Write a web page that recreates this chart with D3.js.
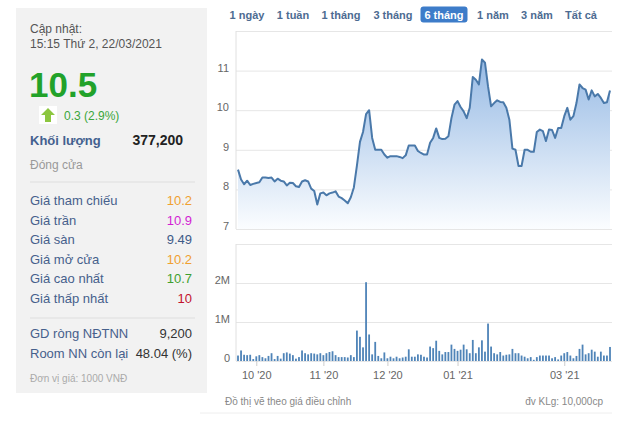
<!DOCTYPE html>
<html>
<head>
<meta charset="utf-8">
<script src="https://cdn.jsdelivr.net/npm/d3@7"></script>
<style>
  body { margin: 0; background: #fff; }
  svg { display: block; font-family: Arial, "Liberation Sans", sans-serif; }
</style>
</head>
<body>
<div class="chart-wrapper"></div>
<script>
// trading calendar (Vietnam, weekdays minus holidays)
const startDate = '2020-09-23';
const endDate = '2021-03-22';
const holidays = ['2021-01-01', '2021-02-10', '2021-02-11', '2021-02-12', '2021-02-15', '2021-02-16'];

// closing price, 1000 VND
const prices = [
  8.5, 8.25, 8.13, 8.22, 8.11, 8.14, 8.16, 8.18, 8.3, 8.3,
  8.29, 8.3, 8.2, 8.27, 8.22, 8.2, 8.1, 8.17, 8.16, 8.08,
  8.06, 8.2, 8.23, 8.2, 8.02, 7.96, 7.62, 7.9, 7.92, 7.85,
  7.9, 7.92, 7.95, 7.82, 7.78, 7.72, 7.65, 7.8, 8.05, 8.6,
  9.2, 9.45, 9.9, 10.0, 9.3, 9.0, 9.0, 9.0, 8.88, 8.8,
  8.84, 8.84, 8.84, 8.82, 8.79, 8.86, 9.11, 9.11, 9.11, 8.97,
  8.92, 8.88, 8.88, 9.18, 9.3, 9.54, 9.3, 9.27, 9.28, 9.34,
  9.8, 10.14, 10.23, 10.08, 9.97, 9.8, 10.06, 10.84, 10.77, 10.65,
  11.28, 11.2, 10.6, 10.1, 10.18, 10.25, 10.21, 10.2, 10.06, 9.76,
  9.03, 9.0, 8.59, 8.59, 9.0, 9.0, 8.95, 8.95, 9.45, 9.51,
  9.47, 9.22, 9.51, 9.5, 9.3, 9.55, 9.55, 9.85, 10.06, 9.76,
  9.85, 10.18, 10.65, 10.56, 10.52, 10.27, 10.5, 10.35, 10.41, 10.31,
  10.18, 10.2, 10.5
];

// volume, shares
const volumes = [
  140000, 270000, 160000, 150000, 160000, 50000, 120000, 150000, 100000, 70000,
  130000, 200000, 50000, 130000, 60000, 200000, 220000, 190000, 150000, 60000,
  100000, 270000, 200000, 170000, 200000, 190000, 170000, 200000, 150000, 200000,
  230000, 250000, 150000, 100000, 100000, 100000, 90000, 150000, 100000, 780000,
  620000, 350000, 2020000, 680000, 170000, 490000, 130000, 70000, 220000, 70000,
  110000, 70000, 110000, 70000, 90000, 110000, 300000, 110000, 110000, 170000,
  160000, 110000, 90000, 370000, 330000, 520000, 260000, 170000, 230000, 230000,
  420000, 310000, 260000, 290000, 420000, 300000, 200000, 540000, 200000, 350000,
  530000, 240000, 960000, 370000, 200000, 170000, 230000, 140000, 160000, 170000,
  310000, 200000, 200000, 140000, 110000, 70000, 100000, 30000, 100000, 140000,
  140000, 140000, 140000, 70000, 100000, 40000, 140000, 200000, 230000, 140000,
  70000, 130000, 310000, 420000, 170000, 200000, 290000, 240000, 110000, 240000,
  140000, 140000, 360000
];

const tickDates = ['2020-10-01', '2020-11-02', '2020-12-01', '2021-01-04', '2021-03-01'];
const tickLabels = ["10 '20", "11 '20", "12 '20", "01 '21", "03 '21"];
const priceTicks = [7, 8, 9, 10, 11, 12];
const volumeTicks = [0, 1000000, 2000000, 3000000];
const rangeButtons = ['1 ngày', '1 tuần', '1 tháng', '3 tháng', '6 tháng', '1 năm', '3 năm', 'Tất cả'];
const activeButton = '6 tháng';

// quote panel
const updatedLabel = 'Cập nhật:';
const updatedTime = '15:15 Thứ 2, 22/03/2021';
const lastPrice = '10.5';
const change = '0.3 (2.9%)';
const volumeLabel = 'Khối lượng';
const volumeValue = '377,200';
const statusLabel = 'Đóng cửa';
const priceRows = [
  {label: 'Giá tham chiếu', value: '10.2', color: '#f0a030'},
  {label: 'Giá trần', value: '10.9', color: '#d21fd2'},
  {label: 'Giá sàn', value: '9.49', color: '#3f5b88'},
  {label: 'Giá mở cửa', value: '10.2', color: '#f0a030'},
  {label: 'Giá cao nhất', value: '10.7', color: '#3f9f2f'},
  {label: 'Giá thấp nhất', value: '10', color: '#c2132d'}
];
const foreignRows = [
  {label: 'GD ròng NĐTNN', value: '9,200'},
  {label: 'Room NN còn lại', value: '48.04 (%)'}
];
const unitNote = 'Đơn vị giá: 1000 VNĐ';
const footLeft = 'Đồ thị vẽ theo giá điều chỉnh';
const footRight = 'đv KLg: 10,000cp';

const parse = d3.timeParse('%Y-%m-%d');
const fmt = d3.timeFormat('%Y-%m-%d');
const dates = d3.timeDay.range(parse(startDate), d3.timeDay.offset(parse(endDate), 1))
  .filter(d => d.getDay() % 6 !== 0 && !holidays.includes(fmt(d)))
  .map(fmt)
  .slice(0, prices.length);

const data = dates.map((d, i) => ({date: d, price: prices[i], volume: volumes[i]}));

const width = 630, height = 423;
const svg = d3.select('.chart-wrapper').append('svg')
  .attr('width', width)
  .attr('height', height);

// ---- left quote panel
const panel = svg.append('g');
panel.append('rect')
  .attr('x', 16).attr('y', 8).attr('width', 191).attr('height', 385)
  .attr('fill', '#f2f2f2');

panel.append('text').attr('x', 30).attr('y', 33)
  .attr('font-size', 12).attr('fill', '#555').text(updatedLabel);
panel.append('text').attr('x', 30).attr('y', 48)
  .attr('font-size', 12).attr('fill', '#555').text(updatedTime);
panel.append('text').attr('x', 29).attr('y', 97)
  .attr('font-size', 35).attr('font-weight', 'bold').attr('fill', '#22a22a').text(lastPrice);

// up arrow
panel.append('rect').attr('x', 39).attr('y', 106).attr('width', 18).attr('height', 18).attr('fill', '#fff');
panel.append('path')
  .attr('d', 'M48,108 L55,115 L51,115 L51,122 L45,122 L45,115 L41,115 Z')
  .attr('fill', '#8cc63f');
panel.append('text').attr('x', 64).attr('y', 120)
  .attr('font-size', 12).attr('fill', '#3aa63a').text(change);

panel.append('text').attr('x', 30).attr('y', 145)
  .attr('font-size', 13).attr('font-weight', 'bold').attr('fill', '#43608f').text(volumeLabel);
panel.append('text').attr('x', 183).attr('y', 145).attr('text-anchor', 'end')
  .attr('font-size', 14).attr('font-weight', 'bold').attr('fill', '#222').text(volumeValue);
panel.append('text').attr('x', 30).attr('y', 169)
  .attr('font-size', 12).attr('fill', '#999').text(statusLabel);

panel.append('line').attr('x1', 30).attr('x2', 195).attr('y1', 182).attr('y2', 182)
  .attr('stroke', '#dedede');

panel.selectAll('.prow')
  .data(priceRows)
  .enter().append('g')
  .attr('class', 'prow')
  .attr('transform', (d, i) => `translate(0, ${205 + i * 19.5})`)
  .each(function(d) {
    const g = d3.select(this);
    g.append('text').attr('x', 30).attr('font-size', 13).attr('fill', '#46608c').text(d.label);
    g.append('text').attr('x', 192).attr('text-anchor', 'end')
      .attr('font-size', 13).attr('fill', d.color).text(d.value);
  });

panel.append('line').attr('x1', 30).attr('x2', 195).attr('y1', 318).attr('y2', 318)
  .attr('stroke', '#dedede');

panel.selectAll('.frow')
  .data(foreignRows)
  .enter().append('g')
  .attr('class', 'frow')
  .attr('transform', (d, i) => `translate(0, ${338 + i * 19.5})`)
  .each(function(d) {
    const g = d3.select(this);
    g.append('text').attr('x', 30).attr('font-size', 13).attr('fill', '#46608c').text(d.label);
    g.append('text').attr('x', 192).attr('text-anchor', 'end')
      .attr('font-size', 13).attr('fill', '#333').text(d.value);
  });

panel.append('text').attr('x', 30).attr('y', 382)
  .attr('font-size', 10).attr('fill', '#aaa').text(unitNote);

// ---- range buttons
const buttonX = [247, 293, 341, 393, 444, 493, 537, 581];
const buttons = svg.selectAll('.btn')
  .data(rangeButtons)
  .enter().append('g')
  .attr('class', 'btn')
  .attr('transform', (d, i) => `translate(${buttonX[i]}, 15)`);
buttons.filter(d => d === activeButton).append('rect')
  .attr('x', -23.5).attr('y', -8.5).attr('width', 47).attr('height', 16).attr('rx', 3)
  .attr('fill', '#3d7cc9');
buttons.append('text')
  .attr('text-anchor', 'middle').attr('dy', '0.35em')
  .attr('font-size', 11).attr('font-weight', 'bold')
  .attr('fill', d => d === activeButton ? '#fff' : '#4d6b92')
  .text(d => d);

// ---- scales
const plotLeft = 236, plotRight = 612;
const x = d3.scalePoint().domain(dates).range([238, 610]);
const yPrice = d3.scaleLinear().domain([7, 12]).range([229, 31]);
const yVol = d3.scaleLinear().domain([0, 3000000]).range([361, 244]);

// price grid + labels
const priceAxis = svg.append('g')
  .attr('transform', `translate(${plotLeft},0)`)
  .call(d3.axisLeft(yPrice).tickValues(priceTicks)
    .tickSize(-(plotRight - plotLeft)).tickPadding(7)
    .tickFormat(d => d === 12 ? '' : d));
priceAxis.select('.domain').remove();
priceAxis.selectAll('line').attr('stroke', '#e6e6e6');
priceAxis.selectAll('text').attr('fill', '#666').attr('font-size', 11)
  .attr('font-family', 'Arial, "Liberation Sans", sans-serif').attr('dy', '0.05em');

// volume grid + labels
const volAxis = svg.append('g')
  .attr('transform', `translate(${plotLeft},0)`)
  .call(d3.axisLeft(yVol).tickValues(volumeTicks)
    .tickSize(-(plotRight - plotLeft)).tickPadding(6)
    .tickFormat(d => d === 0 ? '0' : (d === 3000000 ? '' : (d / 1e6) + 'M')));
volAxis.select('.domain').remove();
volAxis.selectAll('line').attr('stroke', '#e6e6e6');
volAxis.selectAll('text').attr('fill', '#666').attr('font-size', 11)
  .attr('font-family', 'Arial, "Liberation Sans", sans-serif').attr('dy', '0.05em');

// left borders
svg.append('line').attr('x1', plotLeft).attr('x2', plotLeft).attr('y1', 31).attr('y2', 229)
  .attr('stroke', '#e0e0e0');
svg.append('line').attr('x1', plotLeft).attr('x2', plotLeft).attr('y1', 244).attr('y2', 361)
  .attr('stroke', '#e0e0e0');

// area gradient
const grad = svg.append('defs').append('linearGradient')
  .attr('id', 'areaGrad')
  .attr('gradientUnits', 'userSpaceOnUse')
  .attr('x1', 0).attr('x2', 0).attr('y1', yPrice(12)).attr('y2', yPrice(7));
grad.append('stop').attr('offset', '0%').attr('stop-color', '#86afe0');
grad.append('stop').attr('offset', '100%').attr('stop-color', '#fbfdff');

svg.append('path')
  .datum(data)
  .attr('fill', 'url(#areaGrad)')
  .attr('d', d3.area()
    .x(d => x(d.date))
    .y0(yPrice(7))
    .y1(d => yPrice(d.price)));

svg.append('path')
  .datum(data)
  .attr('fill', 'none')
  .attr('stroke', '#4a79aa')
  .attr('stroke-width', 2)
  .attr('stroke-linejoin', 'round')
  .attr('d', d3.line()
    .x(d => x(d.date))
    .y(d => yPrice(d.price)));

// volume bars
svg.append('g')
  .selectAll('rect')
  .data(data)
  .enter().append('rect')
  .attr('x', d => x(d.date) - 0.9)
  .attr('width', 1.8)
  .attr('y', d => yVol(d.volume))
  .attr('height', d => yVol(0) - yVol(d.volume))
  .attr('fill', '#4f84b8');

// x axis
const xAxis = svg.append('g')
  .attr('transform', `translate(0,${yVol(0)})`)
  .call(d3.axisBottom(x).tickValues(tickDates).tickSize(5).tickPadding(5)
    .tickFormat(d => tickLabels[tickDates.indexOf(d)]));
xAxis.select('.domain').remove();
xAxis.selectAll('line').attr('stroke', '#ccc');
xAxis.selectAll('text').attr('fill', '#666').attr('font-size', 11)
  .attr('font-family', 'Arial, "Liberation Sans", sans-serif');

// footer
svg.append('text').attr('x', 225).attr('y', 405)
  .attr('font-size', 10).attr('fill', '#888').text(footLeft);
svg.append('text').attr('x', 603).attr('y', 405).attr('text-anchor', 'end')
  .attr('font-size', 10).attr('fill', '#888').text(footRight);
svg.append('line').attr('x1', 200).attr('x2', 612).attr('y1', 413).attr('y2', 413)
  .attr('stroke', '#eee');
</script>
</body>
</html>
